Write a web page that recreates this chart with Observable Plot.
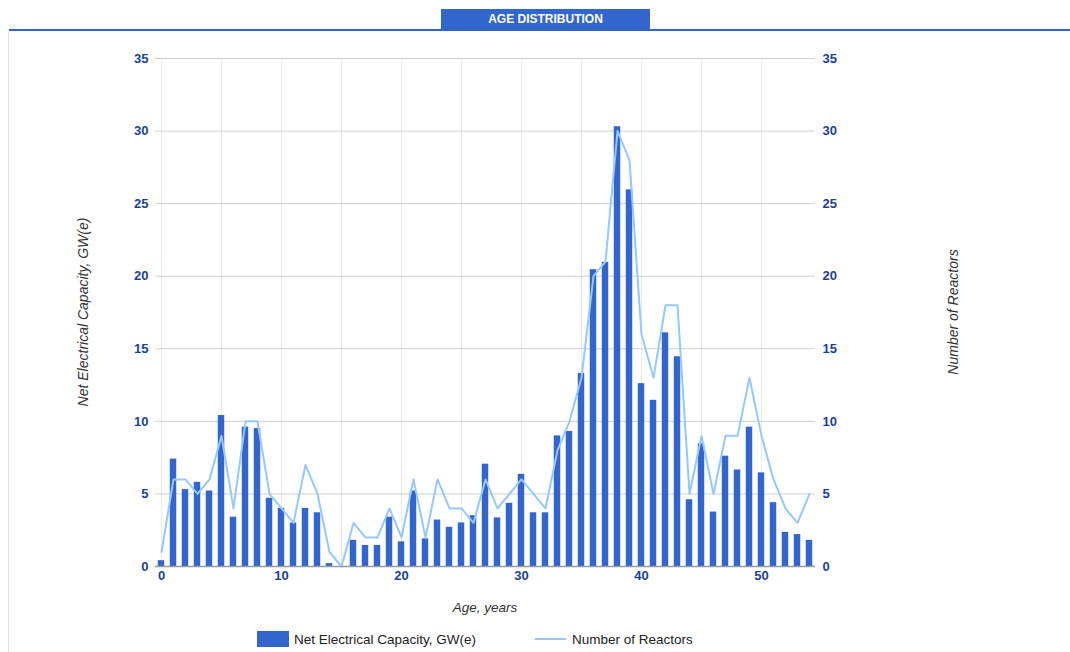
<!DOCTYPE html>
<html>
<head>
<meta charset="utf-8">
<script src="https://cdn.jsdelivr.net/npm/d3@7"></script>
<script src="https://cdn.jsdelivr.net/npm/@observablehq/plot@0.6"></script>
<style>
  html, body { margin: 0; padding: 0; background: #fff; }
  #wrap { position: relative; width: 1070px; height: 652px; overflow: hidden; font-family: "Liberation Sans", Arial, sans-serif; }
  #chart { position: absolute; left: 0; top: 0; }
  .tab { position: absolute; left: 441px; top: 9px; width: 209px; height: 20px; background: #3366cc; color: #fff;
         font-weight: bold; font-size: 12px; line-height: 21px; text-align: center; }
  .rule { position: absolute; left: 9px; top: 29px; width: 1061px; height: 2px; background: #3366cc; }
  .border { position: absolute; left: 8px; top: 31px; width: 1px; height: 621px; background: #e2e2e2; }
  .ytitle { position: absolute; font-style: italic; font-size: 14px; color: #333; white-space: nowrap;
            transform: translate(-50%, -50%) rotate(-90deg); }
  .xtitle { position: absolute; left: 485px; top: 607px; transform: translate(-50%, -50%); font-style: italic; font-size: 13.5px; color: #333; white-space: nowrap; }
  .legend { position: absolute; top: 631px; font-size: 13.5px; color: #222; white-space: nowrap; }
  svg g[aria-label="y-axis tick label"] text, svg g[aria-label="x-axis tick label"] text { font-weight: bold; }
</style>
</head>
<body>
<div id="wrap">
  <div class="tab">AGE DISTRIBUTION</div>
  <div class="rule"></div>
  <div class="border"></div>
  <div id="chart"></div>
  <div class="ytitle" style="left:83px; top:312px;">Net Electrical Capacity, GW(e)</div>
  <div class="ytitle" style="left:953px; top:312px;">Number of Reactors</div>
  <div class="xtitle">Age, years</div>
  <div class="legend" style="left:257px;">
    <span style="display:inline-block; width:32px; height:16px; background:#3366cc; vertical-align:middle; margin-right:5px;"></span><span style="vertical-align:middle;">Net Electrical Capacity, GW(e)</span>
  </div>
  <div class="legend" style="left:535px;">
    <span style="display:inline-block; width:31px; height:2px; background:#94c9ff; vertical-align:middle; margin-right:6px;"></span><span style="vertical-align:middle;">Number of Reactors</span>
  </div>
</div>
<script>
const ages = d3.range(0, 55);
const capacity = [0.4,7.4,5.3,5.8,5.2,10.4,3.4,9.6,9.5,4.7,4.0,3.0,4.0,3.7,0.2,
  0,
  1.8,1.45,1.45,3.4,1.7,5.2,1.9,3.2,2.7,3.0,3.5,7.05,3.35,4.35,6.35,3.7,3.7,
  9.0,9.3,13.3,20.45,20.95,30.3,25.95,12.6,11.45,16.1,14.45,
  4.6,8.45,3.75,7.6,6.65,9.6,6.45,4.4,2.35,2.2,1.8];
const reactors = [1,6,6,5,6,9,4,10,10,5,4,3,7,5,1,0,3,2,2,4,2,6,2,6,4,4,3,6,4,5,6,5,4,8,10,13,20,21,30,28,16,13,18,18,5,9,5,9,9,13,9,6,4,3,5];
const yTicks = [0,5,10,15,20,25,30,35];
const xLabelTicks = [0,10,20,30,40,50];
const xGridTicks = [0,5,10,15,20,25,30,35,40,45,50];

const data = ages.map((a, i) => ({age: a, cap: capacity[i], n: reactors[i]}));
const half = 0.27;
const axisColor = "#1b3f9e";

const chart = Plot.plot({
  width: 1070,
  height: 652,
  marginTop: 58,
  marginBottom: 86,
  marginLeft: 155,
  marginRight: 255,
  style: {fontFamily: "'Liberation Sans', Arial, sans-serif", fontSize: "13px", background: "transparent"},
  x: {type: "linear", domain: [-0.5, 54.5]},
  y: {domain: [0, 35]},
  marks: [
    Plot.gridX(xGridTicks, {stroke: "#ebebeb", strokeOpacity: 1}),
    Plot.gridY(yTicks, {stroke: "#d0d0d0", strokeOpacity: 1}),
    Plot.rectY(data, {x1: d => d.age - half, x2: d => d.age + half, y1: 0, y2: "cap", fill: "#3366cc"}),
    Plot.lineY(data, {x: "age", y: "n", stroke: "#94c9ff", strokeWidth: 2}),
    Plot.ruleY([0], {stroke: "#999", strokeWidth: 1.5}),
    Plot.axisY(yTicks, {anchor: "left", tickSize: 0, tickPadding: 7, label: null, color: axisColor, fontWeight: "bold", fontSize: 13}),
    Plot.axisY(yTicks, {anchor: "right", tickSize: 0, tickPadding: 7, label: null, color: axisColor, fontWeight: "bold", fontSize: 13}),
    Plot.axisX(xLabelTicks, {anchor: "bottom", tickSize: 0, tickPadding: 4, label: null, color: axisColor, fontWeight: "bold", fontSize: 13})
  ]
});
document.getElementById("chart").appendChild(chart);
</script>
</body>
</html>
